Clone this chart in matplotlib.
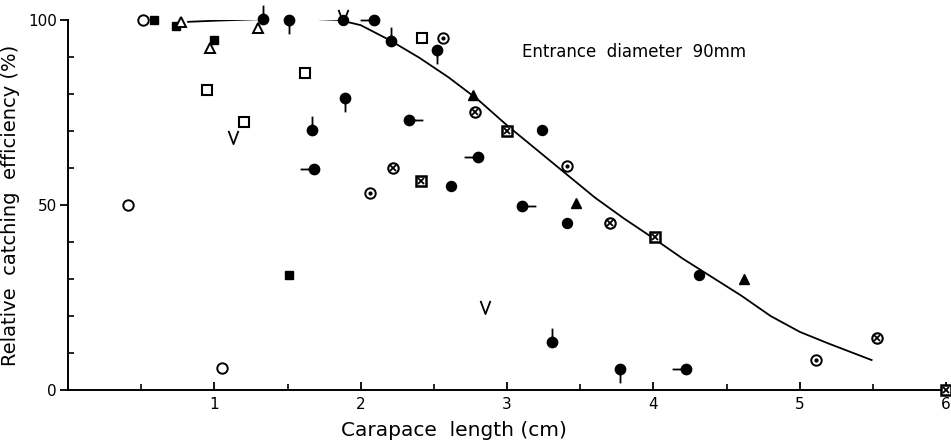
import numpy as np
import matplotlib
matplotlib.use("Agg")
import matplotlib.pyplot as plt
from matplotlib.path import Path

# ---------------- data ----------------
open_circle_x = [0.51, 0.41, 1.05]
open_circle_y = [100, 50, 6]

filled_square_x = [0.59, 0.74, 1.00, 1.51]
filled_square_y = [100, 98.4, 94.6, 31]

open_triangle_x = [0.77, 0.97, 1.30]
open_triangle_y = [99.5, 92.4, 97.8]

open_square_x = [0.95, 1.20, 1.62, 2.42]
open_square_y = [81, 72.4, 85.6, 95.2]

v_x = [1.13, 2.85, 1.88]
v_y = [68.3, 22.5, 101.0]

stem_up_x = [1.33, 1.67, 2.21, 3.31]
stem_up_y = [100.3, 70.3, 94.3, 13]

stem_down_x = [1.51, 1.89, 2.52, 3.77]
stem_down_y = [100, 79, 91.9, 5.7]

stem_left_x = [1.68, 2.09, 2.80, 4.22]
stem_left_y = [59.7, 99.9, 63, 5.6]

stem_right_x = [2.33, 3.10]
stem_right_y = [73, 49.7]

filled_circle_x = [1.88, 2.62, 3.24, 3.41, 4.31]
filled_circle_y = [100, 55, 70.3, 45, 31]

circle_dot_x = [2.06, 2.56, 3.41, 5.11]
circle_dot_y = [53.3, 95, 60.6, 8]

circle_cross_x = [2.22, 2.78, 3.70, 5.53]
circle_cross_y = [60, 75, 45, 14]

square_cross_x = [2.41, 3.00, 4.01, 6.00]
square_cross_y = [56.5, 70, 41.4, 0]

filled_triangle_x = [2.77, 3.47, 4.62]
filled_triangle_y = [79.7, 50.6, 30]

curve_x = [0.82, 1.0, 1.3, 1.6, 1.85, 2.0, 2.2, 2.4, 2.6, 2.8, 3.0, 3.2,
           3.4, 3.6, 3.8, 4.0, 4.2, 4.4, 4.6, 4.8, 5.0, 5.2, 5.49]
curve_y = [99.5, 99.8, 100.2, 100.4, 100.0, 98.6, 94.5, 89.8, 84.5, 78.5,
           71.5, 65.0, 58.5, 52.0, 46.3, 41.0, 35.5, 30.5, 25.5, 20.0,
           15.7, 12.5, 8.1]

x_ticks = [1, 2, 3, 4, 5, 6]
y_ticks = [0, 50, 100]

# ---------------- figure ----------------
fig = plt.figure(figsize=(9.51, 4.44), dpi=100)
ax = fig.add_axes([0.0715, 0.1216, 0.9235, 0.8334])
ax.set_xlim(0, 6)
ax.set_ylim(0, 100)

ax.plot(curve_x, curve_y, color="black", lw=1.3, zorder=2)

def stem_marker(dx, dy, L=2.8):
    circ = Path.circle((0, 0), 1.0)
    stem = Path([(dx, dy), (dx * L, dy * L)], [Path.MOVETO, Path.LINETO])
    return Path.make_compound_path(circ, stem)

v_path = Path([(-0.6, 0.8), (0, -0.8), (0.6, 0.8)],
              [Path.MOVETO, Path.LINETO, Path.LINETO])

common = dict(linestyle="none", clip_on=False, zorder=3)
blk = "black"

ax.plot(open_circle_x, open_circle_y, marker="o", ms=7.5, mfc="white",
        mec=blk, mew=1.4, **common)
ax.plot(filled_square_x, filled_square_y, marker="s", ms=6.2, mfc=blk,
        mec=blk, **common)
ax.plot(open_triangle_x, open_triangle_y, marker="^", ms=7.5, mfc="white",
        mec=blk, mew=1.4, **common)
ax.plot(open_square_x, open_square_y, marker="s", ms=6.8, mfc="white",
        mec=blk, mew=1.5, **common)
ax.plot(v_x, v_y, marker=v_path, ms=9.5, mfc="none", mec=blk, mew=1.3,
        **common)
for xs, ys, d in [(stem_up_x, stem_up_y, (0, 1)),
                  (stem_down_x, stem_down_y, (0, -1)),
                  (stem_left_x, stem_left_y, (-1, 0)),
                  (stem_right_x, stem_right_y, (1, 0))]:
    ax.plot(xs, ys, marker=stem_marker(*d), ms=20, mfc=blk, mec=blk,
            mew=1.3, **common)
ax.plot(filled_circle_x, filled_circle_y, marker="o", ms=7.2, mfc=blk,
        mec=blk, **common)
ax.plot(circle_dot_x, circle_dot_y, marker="o", ms=7.5, mfc="white",
        mec=blk, mew=1.4, **common)
ax.plot(circle_dot_x, circle_dot_y, marker="o", ms=2.0, mfc=blk, mec=blk,
        **common)
ax.plot(circle_cross_x, circle_cross_y, marker="o", ms=7.5, mfc="white",
        mec=blk, mew=1.5, **common)
ax.plot(circle_cross_x, circle_cross_y, marker="x", ms=4.2, mec=blk,
        mew=1.3, **common)
ax.plot(square_cross_x, square_cross_y, marker="s", ms=7.2, mfc="white",
        mec=blk, mew=1.8, **common)
ax.plot(square_cross_x, square_cross_y, marker="x", ms=4.2, mec=blk,
        mew=1.3, **common)
ax.plot(filled_triangle_x, filled_triangle_y, marker="^", ms=7.5, mfc=blk,
        mec=blk, **common)

# ---------------- axes styling ----------------
for s in ["top", "right"]:
    ax.spines[s].set_visible(False)
for s in ["left", "bottom"]:
    ax.spines[s].set_linewidth(1.4)

ax.set_xticks(x_ticks)
ax.set_xticklabels([str(t) for t in x_ticks])
ax.set_xticks(np.arange(0.5, 6, 1.0), minor=True)
ax.set_yticks(y_ticks)
ax.set_yticklabels([str(t) for t in y_ticks])
ax.set_yticks([10, 20, 30, 40, 60, 70, 80, 90], minor=True)
ax.tick_params(axis="x", which="major", direction="in", length=6, width=1.3,
               labelsize=11, pad=5)
ax.tick_params(axis="x", which="minor", direction="in", length=4, width=1.2)
ax.tick_params(axis="y", which="major", direction="out", length=6, width=1.3,
               labelsize=11, pad=2)
ax.tick_params(axis="y", which="minor", direction="in", length=4, width=1.2)

ax.set_xlabel("Carapace  length (cm)", fontsize=14.5, labelpad=4)
ax.xaxis.set_label_coords(0.44, -0.085)
ax.set_ylabel("Relative  catching  efficiency (%)", fontsize=14, labelpad=6)

ax.text(3.1, 91.4, "Entrance  diameter  90mm", fontsize=12, va="center",
        ha="left")

fig.savefig("out.png", dpi=100)
